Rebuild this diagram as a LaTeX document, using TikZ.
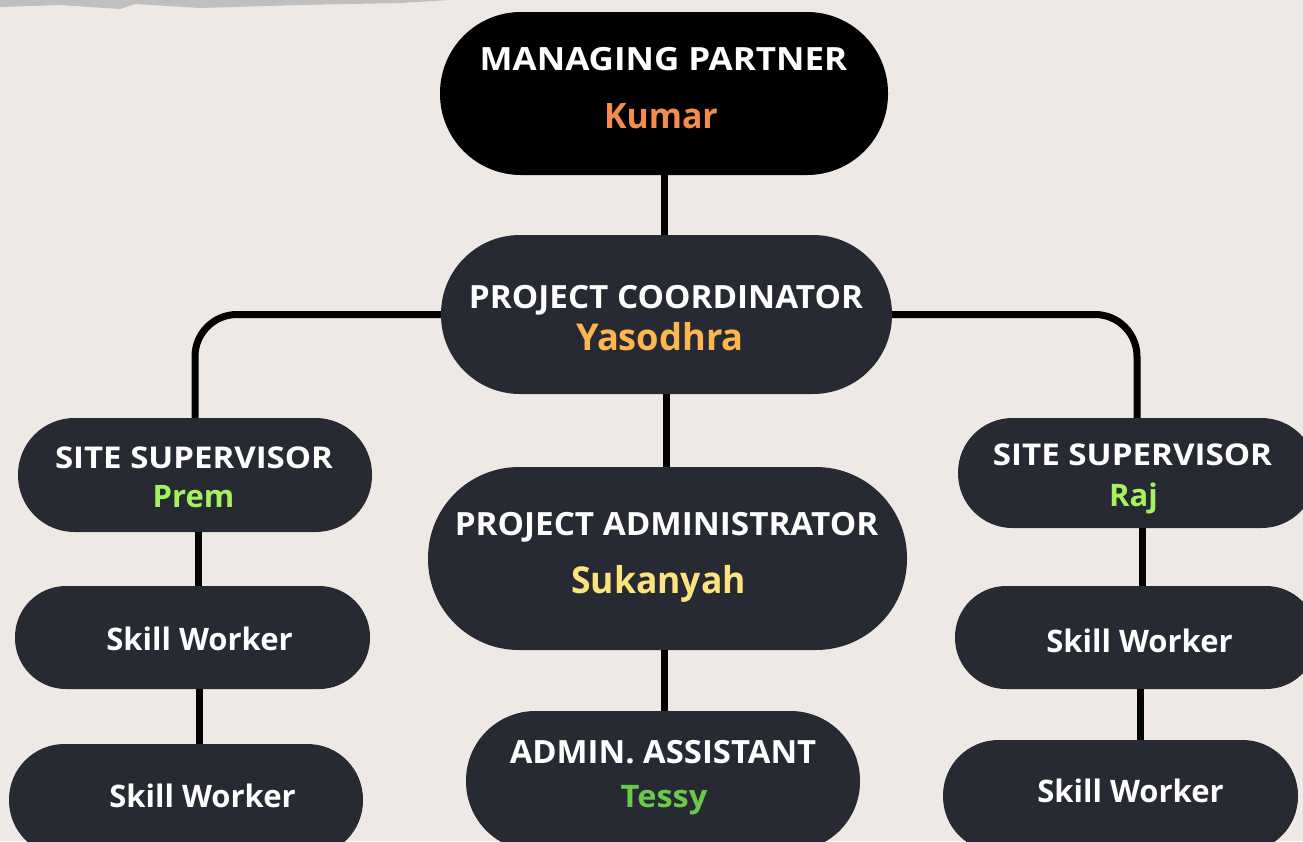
\documentclass[tikz,border=0pt]{standalone}
\usepackage{graphicx}
\usepackage{fontspec}
\setmainfont{Open Sans}
\definecolor{paper}{HTML}{EEE9E5}
\definecolor{boxc}{HTML}{272A33}
\definecolor{kumarc}{HTML}{F58B4C}
\definecolor{yasc}{HTML}{FDB74E}
\definecolor{limec}{HTML}{A6F15E}
\definecolor{sukc}{HTML}{FBE37D}
\definecolor{tessc}{HTML}{6AC94B}
\newcommand{\hs}[2]{\scalebox{#1}[1]{#2}}
\tikzset{
  pill/.style args={#1x#2}{rectangle, fill=boxc, inner sep=0pt, minimum width=#1, minimum height=#2, rounded corners=#2/2-0.5},
  role/.style={anchor=base, text=white, inner sep=0pt, font=\bfseries\fontsize{32}{32}\selectfont},
  who/.style={anchor=base, inner sep=0pt, font=\bfseries\fontsize{#1}{#1}\selectfont},
  link/.style={line width=7pt, draw=black}
}
\begin{document}
\begin{tikzpicture}[x=1pt,y=-1pt]
\useasboundingbox (0,0) rectangle (1303,841);
\clip (0,0) rectangle (1303,841);
\fill[paper] (0,0) rectangle (1303,841);
\fill[gray!50] (0,0) -- (0,7) -- (60,5) -- (120,9) -- (135,4) -- (200,8) -- (300,5) -- (400,3) -- (450,0) -- cycle;
% boxes
\node[pill=448x163, fill=black] (mp) at (664,93.5) {};
\node[pill=451x159] (pc) at (666.5,314.5) {};
\node[pill=354x114] (ssl) at (195,475) {};
\node[pill=355x103] (swl1) at (192.5,637.5) {};
\node[pill=354x112] (swl2) at (186,800) {};
\node[pill=358x110] (ssr) at (1137,473) {};
\node[pill=362x103] (swr1) at (1136,637.5) {};
\node[pill=355x112] (swr2) at (1120.5,796) {};
\node[pill=479x183] (pa) at (667.5,558.5) {};
\node[pill=394x140] (aa) at (663,781) {};
% connectors
\draw[link] (mp.south) -- (mp.south |- pc.north);
\draw[link, rounded corners=42] (pc.west) -| (ssl.north);
\draw[link, rounded corners=42] (pc.east) -| (ssr.north);
\draw[link] (pc.south) -- (pc.south |- pa.north);
\draw[link] ([xshift=-3]pa.south) -- ([xshift=-3]pa.south |- aa.north);
\draw[link] ([xshift=3]ssl.south) -- ([xshift=3]ssl.south |- swl1.north);
\draw[link] ([xshift=6.5]swl1.south) -- ([xshift=6.5]swl1.south |- swl2.north);
\draw[link] ([xshift=5]ssr.south) -- ([xshift=5]ssr.south |- swr1.north);
\draw[link] ([xshift=4]swr1.south) -- ([xshift=4]swr1.south |- swr2.north);
% texts
\node[role] (mpt) at (663.5,70) {\hs{1.093}{MANAGING PARTNER}};
\node[who=35, text=kumarc] (mpn) at (661,128) {\hs{0.966}{Kumar}};
\node[role] (pct) at (666,308) {\hs{1.04}{PROJECT COORDINATOR}};
\node[who=37, text=yasc] (pcn) at (660,350) {\hs{0.98}{Yasodhra}};
\node[role, font=\bfseries\fontsize{30}{30}\selectfont] (sslt) at (194,468) {\hs{1.10}{SITE SUPERVISOR}};
\node[who=31, text=limec] (ssln) at (193.5,507) {Prem};
\node[role, font=\bfseries\fontsize{31}{31}\selectfont] (swl1t) at (199.5,650) {Skill Worker};
\node[role, font=\bfseries\fontsize{31}{31}\selectfont] (swl2t) at (202.5,807) {Skill Worker};
\node[role, font=\bfseries\fontsize{30}{30}\selectfont] (ssrt) at (1132.5,465) {\hs{1.105}{SITE SUPERVISOR}};
\node[who=31, text=limec] (ssrn) at (1133.5,506) {Raj};
\node[role, font=\bfseries\fontsize{31}{31}\selectfont] (swr1t) at (1139.5,652) {Skill Worker};
\node[role, font=\bfseries\fontsize{31}{31}\selectfont] (swr2t) at (1130.5,802) {Skill Worker};
\node[role] (pat) at (666.5,535) {\hs{1.04}{PROJECT ADMINISTRATOR}};
\node[who=37, text=sukc] (pan) at (658.5,593) {\hs{0.96}{Sukanyah}};
\node[role] (aat) at (663,763) {\hs{1.027}{ADMIN. ASSISTANT}};
\node[who=31, text=tessc] (aan) at (664,807) {\hs{1.05}{Tessy}};
\end{tikzpicture}
\end{document}
